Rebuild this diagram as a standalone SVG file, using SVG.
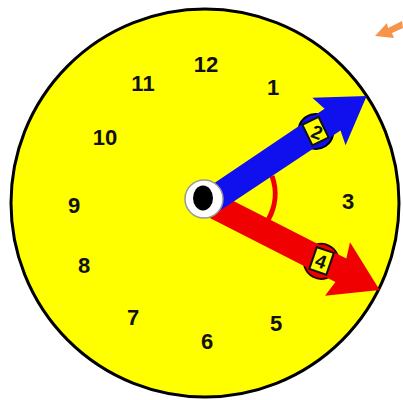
<svg xmlns="http://www.w3.org/2000/svg" width="403" height="400" viewBox="0 0 403 400">
<style>
.num{font-family:"Liberation Sans",Arial,sans-serif;font-weight:bold;font-size:22px;fill:#111;text-anchor:middle}
.lab{font-family:"Liberation Sans",Arial,sans-serif;font-weight:bold;font-size:19px;fill:#111;text-anchor:middle}
</style>
<rect width="403" height="400" fill="#ffffff"/>
<polygon id="orange-arrow" points="375,36 387,23 388,28 402,21 403,28 392,33 394,38" fill="#f58a35" opacity="0.9"/>
<g id="face">
<circle cx="205" cy="203" r="194" fill="#ffff00" stroke="#000" stroke-width="3"/>
</g>
<g id="numbers">
<text class="num" x="206" y="72">12</text>
<text class="num" x="143" y="91">11</text>
<text class="num" x="273" y="95">1</text>
<text class="num" x="105" y="145">10</text>
<text class="num" x="74" y="213">9</text>
<text class="num" x="348" y="209">3</text>
<text class="num" x="84" y="273">8</text>
<text class="num" x="133" y="325">7</text>
<text class="num" x="207" y="349">6</text>
<text class="num" x="276" y="331">5</text>
</g>
<path id="angle-arc" d="M 272 176 A 52 52 0 0 1 268 220" fill="none" stroke="#f00000" stroke-width="5"/>
<g id="red-hand" transform="translate(205,201) rotate(27)">
<circle cx="131" cy="1" r="17.5" fill="#f00000" stroke="#300" stroke-width="2"/>
<polygon points="0,-13 152,-13 148,-29 196,0 150,30 153,13 0,13" fill="#f00000"/>
<rect x="122" y="-11" width="18" height="23" fill="#ffff00" stroke="#111" stroke-width="2" transform="rotate(-8 131 0)"/>
</g>
<text class="lab" x="321" y="268" transform="rotate(20 321 261)">4</text>
<g id="blue-hand" transform="translate(205,205) rotate(-34)">
<circle cx="133" cy="1" r="17.5" fill="#1010ee" stroke="#001" stroke-width="2"/>
<polygon points="0,-13 153,-13 149,-29 195,0 150,29 154,14 0,13" fill="#1010ee"/>
<rect x="124" y="-11" width="18" height="23" fill="#ffff00" stroke="#111" stroke-width="2" transform="rotate(8 133 0)"/>
</g>
<text class="lab" x="317" y="139" transform="rotate(20 317 132)">2</text>
<g id="hub">
<circle cx="204" cy="199" r="19" fill="#ffffff" stroke="#999" stroke-width="1.5"/>
<ellipse cx="203" cy="198" rx="10" ry="12.5" fill="#000"/>
</g>
</svg>
